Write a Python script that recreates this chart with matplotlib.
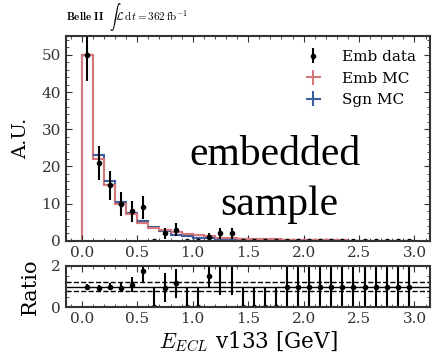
import numpy as np
import matplotlib
matplotlib.use("Agg")
import matplotlib.pyplot as plt

plt.rcParams['font.family'] = 'DejaVu Serif'
plt.rcParams['mathtext.fontset'] = 'cm'

# binning: 30 bins of 0.1 GeV
edges = np.round(np.arange(0, 3.01, 0.1), 2)
centers = edges[:-1] + 0.05

# embedded data (counts and errors)
data_vals = [50, 21, 15, 10, 8, 9, 0, 2, 3, 0,
             0, 1, 2, 2, 0, 0, 0, 0, 0, 0,
             0, 0, 0, 0, 0, 0, 0, 0, 0, 0]
data_errs = [7, 4.6, 3.9, 3.2, 2.8, 3.0, 0, 1.4, 1.7, 0,
             0, 1.0, 1.4, 1.4, 0, 0, 0, 0, 0, 0,
             0, 0, 0, 0, 0, 0, 0, 0, 0, 0]

# embedded MC and signal MC (normalised)
emb_mc = [50, 22, 15, 10, 7.3, 4.9, 3.5, 2.9, 2.4, 1.8,
          1.5, 1.2, 0.9, 0.7, 0.6, 0.5, 0.45, 0.4, 0.35, 0.3,
          0.25, 0.2, 0.15, 0.12, 0.1, 0, 0, 0, 0, 0]
sgn_mc = [50, 23, 16, 10.5, 7.6, 5.4, 3.8, 2.8, 1.6, 1.2,
          0.9, 0.7, 0.6, 0.5, 0.4, 0.35, 0.3, 0.3, 0.25, 0.25,
          0.2, 0.2, 0.15, 0.1, 0.05, 0, 0, 0, 0, 0]

# ratio panel
ratio_vals = [1.0, 0.95, 1.0, 0.95, 1.1, 1.75, 0, 0.95, 1.15, 0,
              0, 1.53, 2.2, 2.2, 0, 0, 0, 0, 1, 1,
              1, 1, 1, 1, 1, 1, 1, 1, 1, 1]
ratio_errs = [0.12, 0.13, 0.18, 0.22, 0.35, 0.55, 1.0, 0.7, 0.7, 1.0,
              1.0, 0.56, 1.6, 1.6, 1.0, 1.0, 1.0, 1.0, 1.1, 1.1,
              1.1, 1.1, 1.1, 1.1, 1.1, 1.1, 1.1, 1.1, 1.1, 1.1]

red = '#d4787b'
blue = '#3f5d9c'

fig = plt.figure(figsize=(4.33, 3.58), dpi=100)
ax = fig.add_axes([0.152, 0.327, 0.841, 0.572])
rax = fig.add_axes([0.152, 0.142, 0.841, 0.115])

zeros = np.zeros(len(centers))
ax.stairs(sgn_mc, edges, color=blue, lw=1.5)
ax.errorbar(centers, sgn_mc, xerr=0.05, yerr=zeros, fmt='none', ecolor=blue,
            elinewidth=1.5, label='Sgn MC')
ax.stairs(emb_mc, edges, color=red, lw=1.5)
ax.errorbar(centers, emb_mc, xerr=0.05, yerr=zeros, fmt='none', ecolor=red,
            elinewidth=1.5, label='Emb MC')
ax.errorbar(centers, data_vals, yerr=data_errs, fmt='o', color='black', ms=3,
            elinewidth=1.5, capsize=0, label='Emb data')

handles, labels = ax.get_legend_handles_labels()
order = [2, 1, 0]
ax.legend([handles[i] for i in order], [labels[i] for i in order],
          loc='upper right', frameon=False, fontsize=11, handlelength=2.2)

ax.text(1.745, 20.4, 'embedded', ha='center', va='baseline', fontsize=30,
        family='Liberation Serif')
ax.text(1.78, 7.0, 'sample', ha='center', va='baseline', fontsize=30,
        family='Liberation Serif')

ax.set_xlim(-0.145, 3.14)
ax.set_ylim(0, 55)
ax.set_ylabel('A.U.', fontsize=14, labelpad=8)
ax.text(0.0, 1.095, r'$\mathbf{Belle\ II}$  $\int\mathcal{L}\,\mathrm{d}t=362\,\mathrm{fb}^{-1}$',
        transform=ax.transAxes, fontsize=8, ha='left', va='center')

rax.errorbar(centers, ratio_vals, yerr=ratio_errs, fmt='o', color='black', ms=3,
             elinewidth=1.5, capsize=0)
rax.axhline(1.0, color='black', lw=1)
rax.axhline(1.2, color='black', lw=1, ls='--')
rax.axhline(0.8, color='black', lw=1, ls='--')
rax.set_xlim(-0.145, 3.14)
rax.set_ylim(0, 2)
rax.set_yticks([0, 2])
rax.set_ylabel('Ratio', fontsize=15, labelpad=8)
rax.set_xlabel(r'$E_{ECL}$ v133 [GeV]', fontsize=15.5, labelpad=2)

for a in (ax, rax):
    a.set_xticks(np.arange(0, 3.01, 0.5))
    a.xaxis.set_minor_locator(matplotlib.ticker.MultipleLocator(0.1))
    a.tick_params(which='both', direction='in', top=True, right=True,
                  labelsize=11, colors='#333333')
    a.tick_params(which='major', length=4)
    a.tick_params(which='minor', length=2)
    for s in a.spines.values():
        s.set_linewidth(1.5)
        s.set_color('#333333')
ax.yaxis.set_minor_locator(matplotlib.ticker.MultipleLocator(2))
rax.yaxis.set_minor_locator(matplotlib.ticker.MultipleLocator(0.5))

fig.savefig('out.png', dpi=100)
